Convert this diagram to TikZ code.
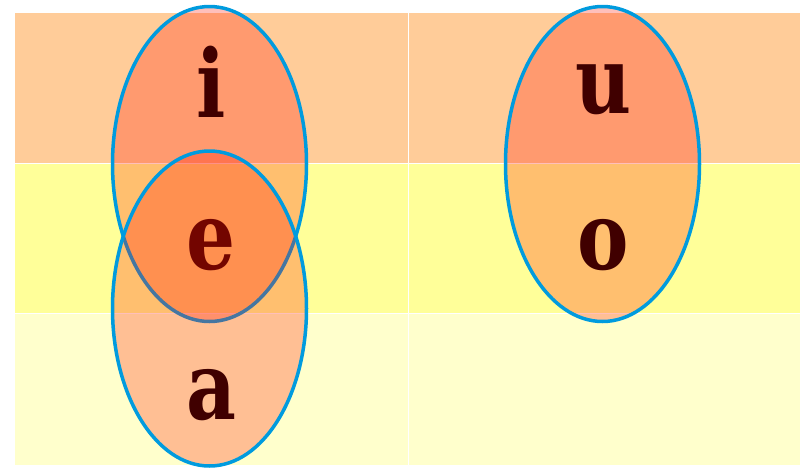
\documentclass[tikz,border=0pt]{standalone}
\usepackage{fontspec}
\setmainfont{DejaVu Serif}
\newfontfamily\vowelfont[FakeStretch=0.82]{DejaVu Serif}
\definecolor{rowtop}{RGB}{255,204,153}
\definecolor{rowmid}{RGB}{255,255,153}
\definecolor{rowlow}{RGB}{255,255,204}
\definecolor{ringblue}{RGB}{0,155,222}
\definecolor{setred}{RGB}{255,20,0}
\definecolor{vowel}{RGB}{64,0,0}
\tikzset{
  vowelset/.style={fill=setred, fill opacity=0.27, draw=ringblue, line width=3.5pt},
  letter/.style={text=vowel, font=\vowelfont\fontsize{94}{94}\selectfont\bfseries, anchor=base, inner sep=0pt}
}
\begin{document}
\begin{tikzpicture}[x=1pt, y=-1pt]
	\useasboundingbox (0,0) rectangle (807,467);
	% rows of the table
	\foreach \top / \bot / \col in {13/163/rowtop, 163/313/rowmid, 313/465/rowlow} {
		\fill[\col] (15,\top) rectangle (800,\bot);
	}
	\draw[white, line width=1pt] (408,13) -- (408,465);
	\foreach \y in {163, 313} {
		\draw[white, line width=1pt] (15,\y) -- (800,\y);
	}
	% front vowels
	\draw[vowelset] (209.5,164) ellipse [x radius=97pt, y radius=157.5pt];
	\node[letter] (i) at (211,117) {i};
	\node[letter] (e) at (211,269) {e};
	\draw[vowelset] (209.5,308.5) ellipse [x radius=97pt, y radius=157.5pt];
	\node[letter] (a) at (211,419) {a};
	% back vowels
	\draw[vowelset] (602.5,164) ellipse [x radius=97pt, y radius=157.5pt];
	\node[letter] (u) at (603.5,113) {u};
	\node[letter] (o) at (603.5,269) {o};
\end{tikzpicture}
\end{document}
